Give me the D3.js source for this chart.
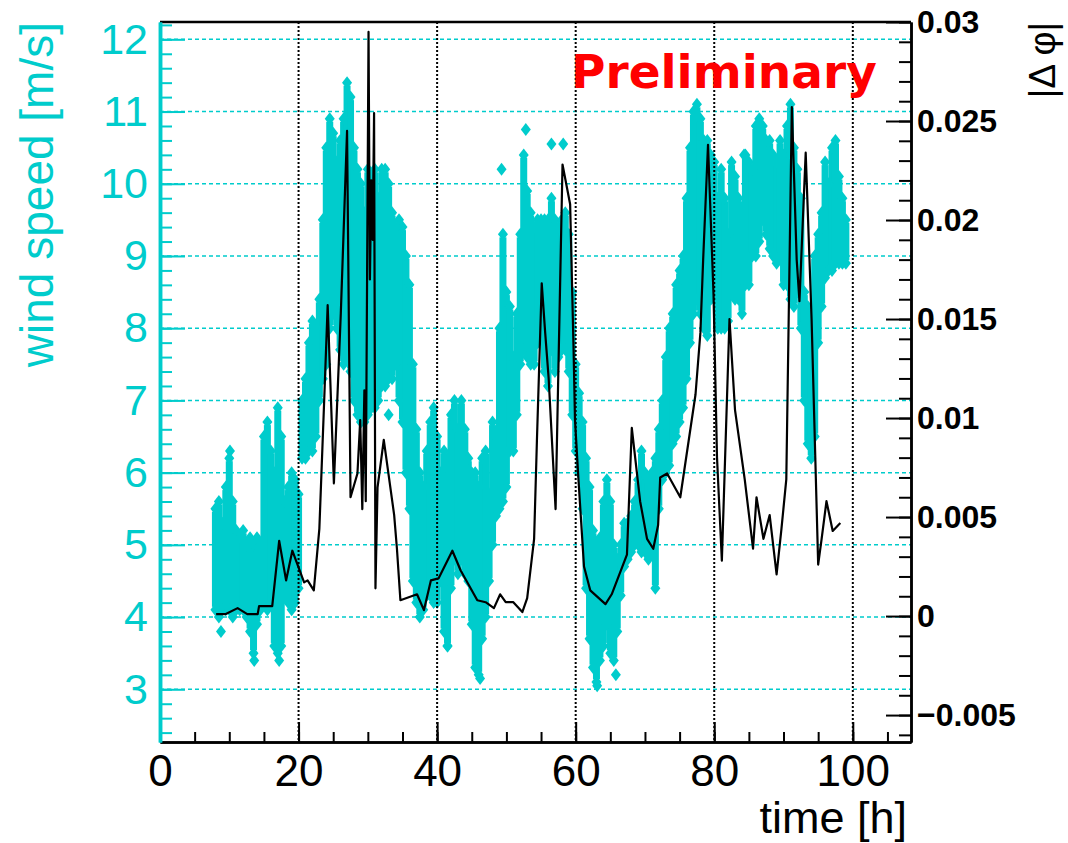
<!DOCTYPE html>
<html>
<head>
<meta charset="utf-8">
<script src="https://cdn.jsdelivr.net/npm/d3@7"></script>
<style>
	body { margin: 0; background: #fff; }
	text { font-family: "Liberation Sans", Arial, sans-serif; }
</style>
</head>
<body>
<svg width="1068" height="843"></svg>
<script>
// Wind speed spread per time step (hours, lower and upper edge in m/s)
var windTime = [8, 8.5, 9, 9.5, 10, 10.5, 11, 11.5, 12, 12.5, 13, 13.5, 14, 14.5, 15, 15.5, 16, 16.5, 17, 17.5,
	18, 18.5, 19, 19.5, 20, 20.5, 21, 21.5, 22, 22.5, 23, 23.5, 24, 24.5, 25, 25.5, 26, 26.5, 27, 27.5,
	28, 28.5, 29, 29.5, 30, 30.5, 31, 31.5, 32, 32.5, 33, 33.5, 34, 34.5, 35, 35.5, 36, 36.5, 37, 37.5,
	38, 38.5, 39, 39.5, 40, 40.5, 41, 41.5, 42, 42.5, 43, 43.5, 44, 44.5, 45, 45.5, 46, 46.5, 47, 47.5,
	48, 48.5, 49, 49.5, 50, 50.5, 51, 51.5, 52, 52.5, 53, 53.5, 54, 54.5, 55, 55.5, 56, 56.5, 57, 57.5,
	58, 58.5, 59, 59.5, 60, 60.5, 61, 61.5, 62, 62.5, 63, 63.5, 64, 64.5, 65, 65.5, 66, 66.5, 67, 67.5,
	68, 68.5, 69, 69.5, 70, 70.5, 71, 71.5, 72, 72.5, 73, 73.5, 74, 74.5, 75, 75.5, 76, 76.5, 77, 77.5,
	78, 78.5, 79, 79.5, 80, 80.5, 81, 81.5, 82, 82.5, 83, 83.5, 84, 84.5, 85, 85.5, 86, 86.5, 87, 87.5,
	88, 88.5, 89, 89.5, 90, 90.5, 91, 91.5, 92, 92.5, 93, 93.5, 94, 94.5, 95, 95.5, 96, 96.5, 97, 97.5,
	98, 98.5, 99];
var windLo = [4.1, 4.0, 4.1, 4.1, 4.1, 4.0, 4.1, 4.1, 4.1, 4.0, 3.8, 3.5, 3.9, 4.1, 4.2, 4.1, 4.2, 3.6, 3.5, 3.6,
	4.3, 4.2, 4.1, 4.2, 4.4, 6.2, 6.2, 6.3, 6.3, 6.5, 7.0, 7.3, 7.5, 8.0, 8.2, 8.0, 7.7, 7.5, 7.6, 7.4,
	7.0, 6.8, 6.7, 6.7, 6.8, 6.9, 6.9, 7.0, 7.2, 7.2, 7.3, 7.3, 7.5, 7.0, 6.7, 6.0, 5.5, 4.5, 4.2, 4.0,
	4.1, 4.3, 4.3, 4.2, 4.2, 4.5, 3.8, 3.6, 4.4, 4.8, 4.6, 4.8, 4.6, 4.5, 3.9, 3.3, 3.2, 3.7, 4.0, 4.5,
	5.0, 5.4, 5.5, 5.6, 5.8, 6.3, 6.3, 6.8, 7.5, 7.7, 7.6, 7.5, 7.5, 7.8, 8.0, 7.4, 7.2, 7.7, 7.4, 7.6,
	7.7, 7.7, 7.4, 6.8, 6.3, 6.0, 5.5, 4.4, 3.7, 3.3, 3.1, 3.4, 3.6, 3.9, 3.5, 3.4, 3.8, 4.3, 4.7, 4.8,
	4.9, 5.0, 5.0, 4.9, 4.9, 4.8, 4.9, 4.4, 5.5, 5.9, 6.0, 6.1, 6.4, 6.5, 6.7, 6.9, 7.3, 7.8, 8.2, 8.4,
	8.2, 8.0, 7.9, 8.4, 8.4, 8.0, 8.0, 8.0, 8.1, 8.5, 8.4, 8.4, 8.2, 8.6, 8.6, 9.0, 9.0, 9.2, 9.5, 9.3,
	9.1, 9.0, 8.9, 9.0, 8.6, 8.6, 8.4, 8.3, 8.5, 8.0, 7.0, 6.4, 6.2, 6.5, 7.8, 8.3, 8.7, 8.8, 8.8, 8.9,
	8.9, 8.9, 8.9];
var windHi = [5.5, 5.6, 5.3, 5.8, 6.2, 5.6, 5.2, 5.1, 5.2, 5.0, 5.1, 5.0, 5.1, 5.0, 6.5, 6.7, 6.3, 6.0, 6.9, 6.5,
	5.6, 5.8, 6.0, 5.9, 5.7, 7.0, 7.3, 7.8, 8.1, 8.0, 8.4, 9.5, 10.5, 10.9, 10.7, 10.3, 10.6, 10.9, 11.4, 11.2,
	10.5, 10.2, 10.0, 9.6, 10.2, 10.1, 10.2, 9.8, 10.2, 10.2, 10.0, 9.6, 9.4, 9.5, 9.4, 9.0, 8.6, 7.5, 6.6, 6.0,
	5.8, 6.3, 6.7, 6.9, 6.5, 6.0, 6.3, 6.2, 6.8, 7.0, 6.6, 7.0, 6.6, 6.2, 6.0, 6.0, 5.8, 6.2, 6.3, 5.7,
	6.7, 6.5, 8.0, 9.3, 8.5, 8.3, 7.6, 8.2, 9.3, 10.4, 9.9, 9.6, 9.4, 9.5, 9.5, 9.5, 9.5, 9.8, 9.5, 9.4,
	9.5, 9.6, 9.3, 8.5, 7.5, 7.1, 6.7, 6.2, 5.8, 5.2, 5.0, 5.1, 5.6, 5.9, 5.6, 5.0, 4.8, 5.0, 5.3, 5.3,
	5.4, 5.6, 5.9, 6.3, 6.0, 5.9, 6.0, 6.2, 6.6, 7.0, 7.6, 8.0, 8.2, 8.6, 8.8, 9.0, 9.8, 10.5, 11.0, 11.1,
	10.9, 10.6, 10.6, 10.4, 10.3, 9.8, 10.2, 9.8, 9.3, 10.3, 10.1, 9.8, 9.6, 10.4, 10.3, 10.2, 10.8, 10.9, 10.8, 10.6,
	10.6, 10.4, 10.3, 10.6, 10.4, 10.8, 11.1, 10.5, 10.2, 9.8, 8.5, 8.3, 7.8, 9.0, 9.3, 9.6, 10.3, 10.0, 10.5, 10.6,
	10.1, 9.8, 9.5];

// Single stray points outside the spread
var strayTime = [8.8, 10.1, 13.6, 17.2, 33.0, 41.5, 46.2, 49.3, 52.8, 56.5, 58.2, 63.1, 65.8, 84.3];
var strayWind = [3.8, 6.3, 3.4, 3.4, 6.8, 3.6, 3.15, 10.2, 10.75, 10.55, 10.55, 3.05, 3.2, 10.4];

// |delta phi| vs time
var phiTime = [8.1, 9.5, 11.2, 12.6, 14.1, 14.3, 16.2, 17.2, 18.2, 19.1, 20.8, 21.3, 22.2, 23.0, 23.7, 24.2,
	25.1, 26.1, 27.0, 27.5, 28.5, 28.9, 29.2, 29.5, 29.7, 30.1, 30.3, 30.5, 30.7, 30.9, 31.1, 31.4,
	32.3, 33.8, 34.2, 34.7, 37.1, 38.1, 39.1, 40.2, 42.2, 43.4, 45.8, 47.0, 48.2, 49.1, 49.9, 51.0,
	52.3, 53.0, 54.0, 54.4, 55.1, 55.6, 56.1, 57.1, 58.1, 59.2, 59.7, 59.9, 60.4, 61.2, 62.1, 64.3,
	65.2, 67.4, 68.1, 69.3, 70.3, 71.2, 71.9, 72.2, 73.2, 75.1, 77.3, 78.0, 78.4, 79.1, 79.9, 80.4,
	81.1, 82.2, 83.0, 84.4, 85.6, 86.1, 87.1, 88.0, 89.0, 89.7, 90.4, 91.2, 91.9, 92.3, 93.2, 94.05,
	95.0, 95.5, 96.2, 97.1, 98.2];
var phiVal = [0.0001, 0.0001, 0.0004, 0.0001, 0.0001, 0.0005, 0.0005, 0.0038, 0.0018, 0.0033, 0.0017, 0.0018, 0.0013, 0.0044, 0.0109, 0.0157,
	0.0067, 0.0153, 0.0245, 0.0060, 0.0072, 0.0099, 0.0054, 0.0114, 0.0058, 0.0295, 0.0170, 0.0220, 0.0190, 0.0254, 0.0014, 0.0065,
	0.0089, 0.0051, 0.0034, 0.0008, 0.0011, 0.0003, 0.0018, 0.0019, 0.0033, 0.0023, 0.0008, 0.0007, 0.0004, 0.0011, 0.0007, 0.0007,
	0.0002, 0.0009, 0.0039, 0.0088, 0.0168, 0.0143, 0.0120, 0.0054, 0.0228, 0.0208, 0.0134, 0.0099, 0.0069, 0.0025, 0.0013, 0.0006,
	0.0011, 0.0031, 0.0095, 0.0058, 0.0039, 0.0034, 0.0046, 0.0070, 0.0072, 0.0060, 0.0112, 0.0143, 0.0180, 0.0238, 0.0162, 0.0080,
	0.0028, 0.0150, 0.0104, 0.0069, 0.0034, 0.0060, 0.0039, 0.0051, 0.0021, 0.0044, 0.0069, 0.0257, 0.0180, 0.0159, 0.0234, 0.0150,
	0.0026, 0.0039, 0.0058, 0.0043, 0.0047];

// Tick values
var xMajor = [0, 20, 40, 60, 80, 100];
var windMajor = [3, 4, 5, 6, 7, 8, 9, 10, 11, 12];
var phiMajor = [-0.005, 0, 0.005, 0.01, 0.015, 0.02, 0.025, 0.03];
var phiLabels = ["\u22120.005", "0", "0.005", "0.01", "0.015", "0.02", "0.025", "0.03"];

var cyan = "#00cccc";
var svg = d3.select("svg");

// Frame (note: "top" is taken by window.top, so use prefixed names)
var frameL = 160, frameR = 911, frameT = 22, frameB = 742;

var x = d3.scaleLinear().domain([0, 108.4]).range([frameL, frameR]);
var yL = d3.scaleLinear().domain([2.27, 12.24]).range([frameB, frameT]);
var yR = d3.scaleLinear().domain([-0.00636, 0.0300]).range([frameB, frameT]);

// Horizontal cyan grid
svg.append("g")
	.selectAll("line")
	.data(windMajor)
	.enter().append("line")
	.attr("x1", frameL).attr("x2", frameR)
	.attr("y1", (d) => yL(d)).attr("y2", (d) => yL(d))
	.attr("stroke", cyan)
	.attr("stroke-width", 1.5)
	.attr("stroke-dasharray", "4,3");

// Wind speed cloud: spread bars plus diamond markers
var diamond = "M0,-6.5L5,0L0,6.5L-5,0Z";
var wind = windTime.map((t, i) => ({ t: t, lo: windLo[i], hi: windHi[i] }));
var cloud = svg.append("g").attr("fill", cyan);

// bars a bit inset so the diamonds shape the edges
cloud.selectAll("rect")
	.data(wind)
	.enter().append("rect")
	.attr("x", (d) => x(d.t) - 3.5)
	.attr("width", 7)
	.attr("y", (d) => yL(d.hi) + 3)
	.attr("height", (d) => Math.max(0, yL(d.lo) - yL(d.hi) - 6));

cloud.selectAll("path.hi")
	.data(wind)
	.enter().append("path")
	.attr("class", "hi")
	.attr("d", diamond)
	.attr("transform", (d) => "translate(" + x(d.t) + "," + yL(d.hi) + ")");

cloud.selectAll("path.lo")
	.data(wind)
	.enter().append("path")
	.attr("class", "lo")
	.attr("d", diamond)
	.attr("transform", (d) => "translate(" + x(d.t) + "," + yL(d.lo) + ")");

cloud.selectAll("path.stray")
	.data(strayTime)
	.enter().append("path")
	.attr("class", "stray")
	.attr("d", diamond)
	.attr("transform", (d, i) => "translate(" + x(d) + "," + yL(strayWind[i]) + ")");

// Vertical dotted grid
svg.append("g")
	.selectAll("line")
	.data(xMajor.slice(1))
	.enter().append("line")
	.attr("x1", (d) => x(d)).attr("x2", (d) => x(d))
	.attr("y1", frameT).attr("y2", frameB)
	.attr("stroke", "#000")
	.attr("stroke-width", 2)
	.attr("stroke-dasharray", "2,2");

// |delta phi| line
var line = d3.line()
	.x((d) => x(d))
	.y((d, i) => yR(phiVal[i]));

svg.append("path")
	.datum(phiTime)
	.attr("d", line)
	.attr("fill", "none")
	.attr("stroke", "#000")
	.attr("stroke-width", 2.2)
	.attr("stroke-linejoin", "round");

// Top border
svg.append("line")
	.attr("x1", frameL).attr("x2", frameR)
	.attr("y1", frameT).attr("y2", frameT)
	.attr("stroke", "#000").attr("stroke-width", 2.5);

// Axes - minor ticks first, then majors with labels
function styleAxis(g, color, width) {
	g.select(".domain").attr("stroke", color).attr("stroke-width", width);
	g.selectAll(".tick line").attr("stroke", color).attr("stroke-width", 2);
}

var gx = svg.append("g").attr("transform", "translate(0," + frameB + ")");
gx.append("g")
	.call(d3.axisBottom(x).tickValues(d3.range(5, 108, 5)).tickSize(-10).tickSizeOuter(0).tickFormat(""))
	.call(styleAxis, "#000", 2.5);
gx.append("g")
	.call(d3.axisBottom(x).tickValues(xMajor).tickSize(-20).tickSizeOuter(0).tickPadding(13))
	.call(styleAxis, "#000", 2.5)
	.selectAll("text")
	.attr("fill", "#000")
	.style("font-size", "44px");

var gl = svg.append("g").attr("transform", "translate(" + frameL + ",0)");
gl.append("g")
	.call(d3.axisLeft(yL).tickValues(d3.range(24, 123, 2).map((d) => d / 10)).tickSize(-12).tickSizeOuter(0).tickFormat(""))
	.call(styleAxis, cyan, 3.5);
gl.append("g")
	.call(d3.axisLeft(yL).tickValues(windMajor).tickSize(-25).tickSizeOuter(0).tickPadding(12))
	.call(styleAxis, cyan, 3.5)
	.selectAll("text")
	.attr("fill", cyan)
	.style("font-size", "43px");

var gr = svg.append("g").attr("transform", "translate(" + frameR + ",0)");
gr.append("g")
	.call(d3.axisRight(yR).tickValues(d3.range(-6, 31, 1).map((d) => d / 1000)).tickSize(-12).tickSizeOuter(0).tickFormat(""))
	.call(styleAxis, "#000", 2.5);
gr.append("g")
	.call(d3.axisRight(yR).tickValues(phiMajor).tickSize(-25).tickSizeOuter(0).tickPadding(6)
		.tickFormat((d, i) => phiLabels[i]))
	.call(styleAxis, "#000", 2.5)
	.selectAll("text")
	.attr("fill", "#000")
	.style("font-size", "32px")
	.style("font-weight", "bold");

// Axis titles
svg.append("text")
	.attr("transform", "translate(53," + frameT + ") rotate(-90)")
	.attr("text-anchor", "end")
	.attr("fill", cyan)
	.style("font-size", "46px")
	.text("wind speed [m/s]");

svg.append("text")
	.attr("x", 907).attr("y", 833)
	.attr("text-anchor", "end")
	.attr("fill", "#000")
	.style("font-size", "45px")
	.text("time [h]");

svg.append("text")
	.attr("transform", "translate(1055," + frameT + ") rotate(-90)")
	.attr("text-anchor", "end")
	.attr("fill", "#000")
	.style("font-size", "37px")
	.text("|\u0394 \u03c6|");

// Watermark
svg.append("text")
	.attr("x", 571).attr("y", 88)
	.attr("fill", "#ff0000")
	.style("font-family", "'DejaVu Sans', Verdana, sans-serif")
	.style("font-weight", "bold")
	.style("font-size", "47px")
	.text("Preliminary");
</script>
</body>
</html>
